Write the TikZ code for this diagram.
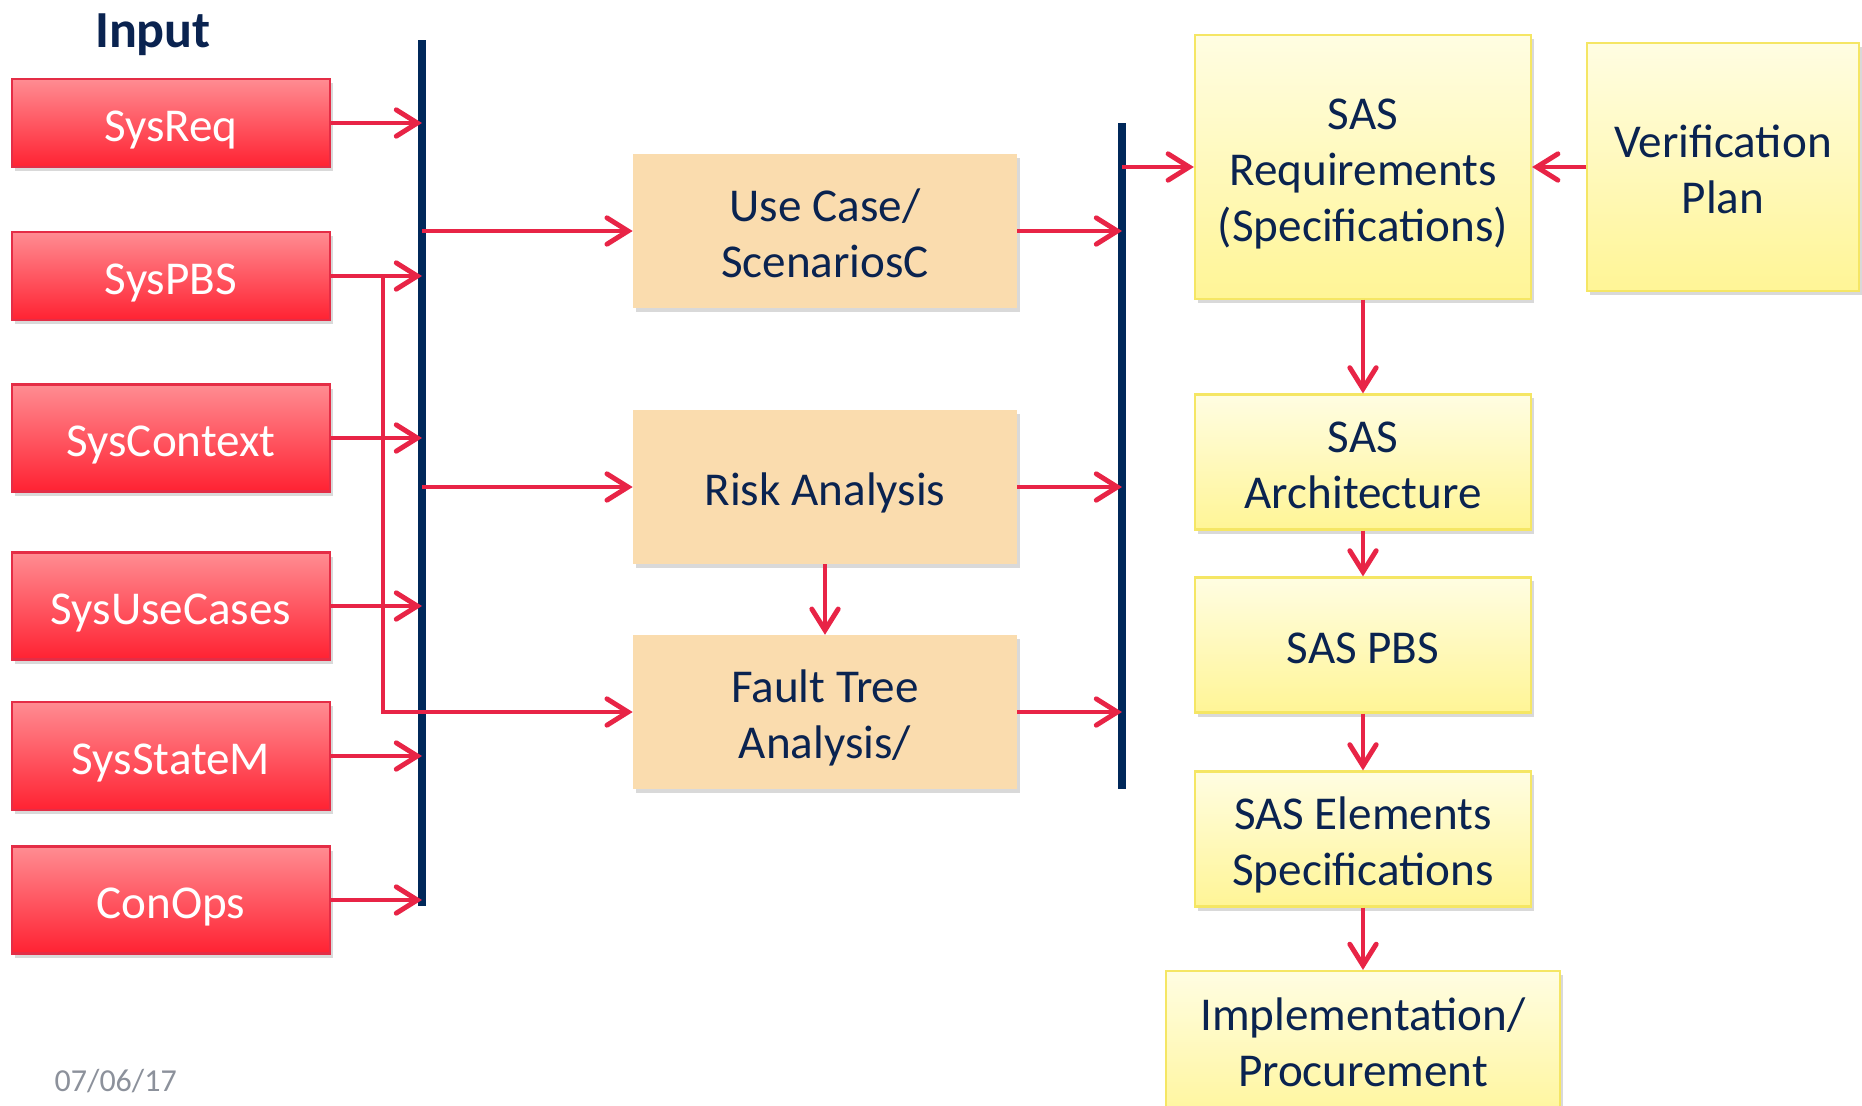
\documentclass[tikz,border=0pt]{standalone}
\usepackage{fontspec}
\setmainfont{Carlito}
\usetikzlibrary{arrows.meta,shadows}
\definecolor{linkred}{RGB}{232,36,70}
\definecolor{busblue}{RGB}{0,40,90}
\definecolor{textblue}{RGB}{10,35,80}
\definecolor{peach}{RGB}{250,220,174}
\tikzset{
  boxfont/.style={font=\fontsize{13.4}{16}\selectfont,text height=14pt,text depth=3.5pt},
  twolines/.style={text height=30pt},
  threelines/.style={text height=46pt},
  shadowed/.style={drop shadow={shadow xshift=0.03cm,shadow yshift=-0.04cm,opacity=0.3}},
  inbox/.style={boxfont,shadowed,draw={rgb,255:red,228;green,45;blue,70},line width=0.6pt,
    top color={rgb,255:red,255;green,140;blue,146},bottom color={rgb,255:red,255;green,34;blue,50},
    text=white,minimum width=3.18cm,inner sep=0pt},
  midbox/.style={boxfont,shadowed,fill=peach,text=textblue,align=center,
    minimum width=3.83cm,minimum height=1.53cm,inner sep=0pt},
  sasbox/.style={boxfont,shadowed,draw={rgb,255:red,245;green,230;blue,100},line width=0.6pt,
    top color={rgb,255:red,255;green,253;blue,226},bottom color={rgb,255:red,255;green,245;blue,150},
    text=textblue,align=center,inner sep=0pt},
  bus/.style={busblue,line width=2pt},
  link/.style={linkred,line width=1.4pt}
}

\begin{document}
\begin{tikzpicture}[x=0.01cm,y=-0.01cm,>={Straight Barb[length=6pt,width=7.5pt,line cap=round]}]
  \useasboundingbox (0,0) rectangle (1862,1105);

  % title and date
  \node[anchor=base,text=textblue,font=\fontsize{14.8}{17}\selectfont\bfseries] (title) at (153,47) {Input};
  \node[anchor=base west,inner sep=0pt,text={rgb,255:red,140;green,145;blue,155},font=\fontsize{9.1}{11}\selectfont] (date) at (54,1091) {07/06/17};

  % the two bars
  \coordinate (b1top) at (422,40);
  \coordinate (b1bot) at (422,906);
  \coordinate (b2top) at (1122,123);
  \coordinate (b2bot) at (1122,789);
  \coordinate (split) at (383,0);
  \draw[bus] (b1top) -- (b1bot);
  \draw[bus] (b2top) -- (b2bot);

  % middle boxes
  \node[midbox,twolines] (usecase) at (825,231) {Use Case/\\ScenariosC};
  \node[midbox] (risk) at (825,487) {Risk Analysis};
  \node[midbox,twolines] (fault) at (825,712) {Fault Tree\\Analysis/};

  % SAS column
  \node[sasbox,threelines,minimum width=3.36cm,minimum height=2.63cm] (sasreq) at (1363,167) {SAS\\Requirements\\(Specifications)};
  \node[sasbox,twolines,minimum width=2.71cm,minimum height=2.48cm] (verif) at (1723,167) {Verification\\Plan};
  \node[sasbox,twolines,minimum width=3.36cm,minimum height=1.35cm] (sasarch) at (1363,462) {SAS\\Architecture};
  \node[sasbox,minimum width=3.36cm,minimum height=1.35cm] (saspbs) at (1363,645) {SAS PBS};
  \node[sasbox,twolines,minimum width=3.36cm,minimum height=1.35cm] (saselem) at (1363,839) {SAS Elements\\Specifications};
  \node[sasbox,twolines,text depth=9.8pt,minimum width=3.94cm,minimum height=1.6cm] (impl) at (1363,1051) {Implementation/\\Procurement};

  % inputs
  \foreach \n/\y/\h/\t in {sysreq/123/88/SysReq,syspbs/276/88/SysPBS,syscontext/438/107/SysContext,
      sysusecases/606/107/SysUseCases,sysstatem/756/108/SysStateM,conops/900/107/ConOps} {
    \node[inbox,minimum height=\h*0.01cm] (\n) at (171,\y) {\t};
    \draw[link,->] (\n.east) -- (\n.east -| b1top);
  }
  \draw[link,->] (syspbs.east -| split) |- (fault.west);

  \draw[link,->] (usecase.west -| b1top) -- (usecase.west);
  \draw[link,->] (risk.west -| b1top) -- (risk.west);
  \draw[link,->] (risk.south) -- (fault.north);
  \foreach \n in {usecase,risk,fault}
    \draw[link,->] (\n.east) -- (\n.east -| b2top);

  \draw[link,->] (sasreq.west -| b2top) -- (sasreq.west);
  \draw[link,->] (verif.west) -- (sasreq.east);
  \draw[link,->] (sasreq) -- (sasarch);
  \draw[link,->] (sasarch) -- (saspbs);
  \draw[link,->] (saspbs) -- (saselem);
  \draw[link,->] (saselem) -- (impl);
\end{tikzpicture}
\end{document}
